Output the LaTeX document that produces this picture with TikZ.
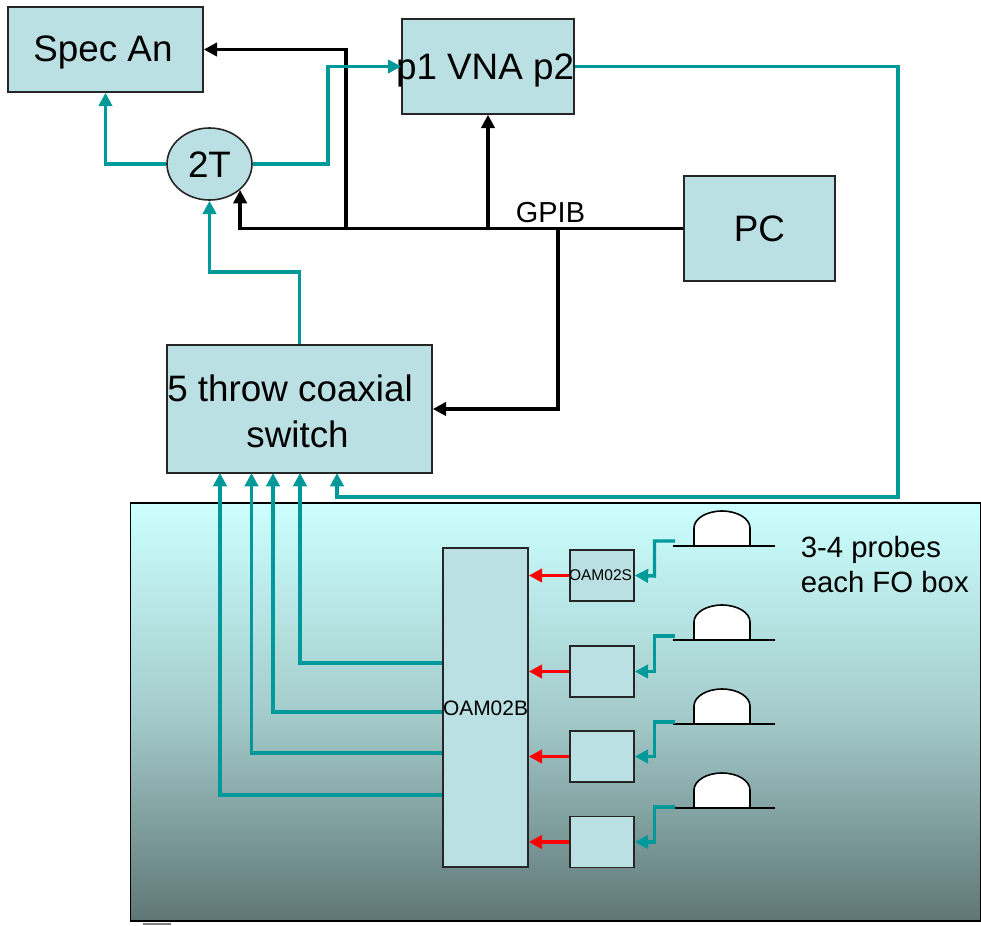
\documentclass[tikz,border=0pt]{standalone}
\usepackage{fontspec}
\setmainfont{Liberation Sans}
\usepackage{tikz}
\usetikzlibrary{arrows.meta,positioning,shapes.geometric,calc}
\definecolor{boxfill}{HTML}{BBE0E3}
\definecolor{rfteal}{HTML}{009999}
\definecolor{paneltop}{HTML}{CCFFFF}
\definecolor{panelmid}{HTML}{A5CCCC}
\definecolor{panelbot}{HTML}{5F7676}
% text set off centre in its box, the box keeps its size
\newcommand{\offtext}[3]{\raisebox{#2}[\height][\depth]{\kern#1\makebox[0pt]{#3}\kern-#1}}
\tikzset{
  unit/.style={rectangle,draw=black!85,line width=1.2pt,fill=boxfill,inner sep=0pt,font=\fontsize{27.6}{34.5}\selectfont},
  smallunit/.style={unit,minimum width=48pt,minimum height=38.25pt,font=\fontsize{11.65}{14}\selectfont},
  rf/.style={draw=rfteal,line width=2.6pt,-{Triangle[length=10pt,width=10pt]}},
  gpib/.style={draw=black,line width=2.6pt,-{Triangle[length=10pt,width=10pt]}},
  fibre/.style={draw=red,line width=2.6pt,-{Triangle[length=10pt,width=10pt]}},
  dome/.style={draw=black,line width=1.2pt,fill=white}
}
\begin{document}
\begin{tikzpicture}[x=0.75pt,y=-0.75pt]
  \useasboundingbox (0,0) rectangle (981,925);

  % panel
  \node[rectangle,draw=black,line width=1.2pt,inner sep=0pt,minimum width=637.5pt,minimum height=313.5pt,
    top color=paneltop,bottom color=panelbot,middle color=panelmid] (fobox) at (555.5,712) {};
  \draw[gray,line width=0.8pt] (143,924) -- (171,924);

  % top row
  \node[unit,minimum width=146.25pt,minimum height=63.75pt] (specan) at (105.5,49.5) {\offtext{-1.9pt}{-2.2pt}{Spec An}};
  \node[unit,minimum width=129pt,minimum height=71.25pt] (vna) at (488,66.5) {\offtext{-2.2pt}{-3pt}{p1 VNA p2}};
  \node[unit,minimum width=113.25pt,minimum height=78.75pt] (pc) at (759.5,228.5) {PC};
  \node[unit,ellipse,minimum width=63.75pt,minimum height=54pt] (twot) at (209.5,164) {\offtext{0pt}{-0.8pt}{2T}};
  \node[unit,minimum width=198.75pt,minimum height=96pt,align=center] (switch) at (299.5,409)
    {\offtext{-7.1pt}{-1.5pt}{5 throw coaxial}\\\offtext{-1.5pt}{-1.5pt}{switch}};

  % inside the panel
  \node[unit,minimum width=63.75pt,minimum height=239.25pt,font=\fontsize{15.7}{18}\selectfont] (oamb) at (485.5,707.5) {\offtext{0pt}{-0.7pt}{OAM02B}};
  \node[smallunit] (oams) at (602,575.5) {\offtext{-1.1pt}{0pt}{OAM02S}};
  \node[smallunit] (fo2) at (602,671.5) {};
  \node[smallunit] (fo3) at (602,756.5) {};
  \node[smallunit] (fo4) at (602,842) {};

  % probes
  \draw[dome] (694,546) -- ++(0,-18) arc[x radius=28,y radius=17,start angle=180,end angle=360] -- ++(0,18);
  \draw[dome] (694,640) -- ++(0,-18) arc[x radius=28,y radius=17,start angle=180,end angle=360] -- ++(0,18);
  \draw[dome] (694,724) -- ++(0,-18) arc[x radius=28,y radius=17,start angle=180,end angle=360] -- ++(0,18);
  \draw[dome] (694,808) -- ++(0,-18) arc[x radius=28,y radius=17,start angle=180,end angle=360] -- ++(0,18);
  \draw[black,line width=1.2pt] (673,546) -- (775,546);
  \draw[black,line width=1.2pt] (673,640) -- (775,640);
  \draw[black,line width=1.2pt] (673,724) -- (775,724);
  \draw[black,line width=1.2pt] (675,808) -- (775,808);

  \coordinate (probe1) at (675,541);
  \coordinate (probe2) at (675,636);
  \coordinate (probe3) at (675,722);
  \coordinate (probe4) at (675,807);

  \node[anchor=west,align=left,inner sep=0pt,font=\fontsize{22}{26.25}\selectfont] (note) at (800.5,564.5) {3-4 probes\\each FO box};
  \node[font=\fontsize{21.7}{26}\selectfont,inner sep=0pt] (gpiblabel) at (550.5,213) {GPIB};

  % control bus
  \coordinate (busspec) at (346,228);
  \coordinate (busvna) at (488,228);
  \coordinate (busswitch) at (558,228);
  \draw[gpib] (pc.west) -| (twot.south east);
  \draw[gpib] (busspec) |- (specan.east);
  \draw[gpib] (busvna) -- (vna.south);
  \draw[gpib] (busswitch) |- (switch.east);

  % signal paths
  \coordinate (swin1) at (220,473);
  \coordinate (swin2) at (251.5,473);
  \coordinate (swin3) at (273,473);
  \coordinate (swin4) at (300,473);
  \coordinate (swin5) at (337,473);
  \coordinate (vnaout) at (898,497);
  \draw[rf] (twot.west) -| (specan.south);
  \draw[rf] (twot.east) -- ++(75,0) |- (vna.west);
  \draw[rf] (switch.north) |- (209.5,272) -- (twot.south);
  \draw[rf] (vna.east) -| (vnaout) -| (swin5);
  \draw[rf] (oamb.west |- 0,663) -| (swin4);
  \draw[rf] (oamb.west |- 0,712) -| (swin3);
  \draw[rf] (oamb.west |- 0,753) -| (swin2);
  \draw[rf] (oamb.west |- 0,795) -| (swin1);

  \draw[rf] (probe1) -| ++(-20.5,35) -- (oams.east);
  \draw[rf] (probe2) -| ++(-20.5,35.5) -- (fo2.east);
  \draw[rf] (probe3) -| ++(-20.5,34.5) -- (fo3.east);
  \draw[rf] (probe4) -| ++(-20.5,35) -- (fo4.east);

  \draw[fibre] (oams.west) -- (oamb.east |- oams.west);
  \draw[fibre] (fo2.west) -- (oamb.east |- fo2.west);
  \draw[fibre] (fo3.west) -- (oamb.east |- fo3.west);
  \draw[fibre] (fo4.west) -- (oamb.east |- fo4.west);
\end{tikzpicture}
\end{document}
